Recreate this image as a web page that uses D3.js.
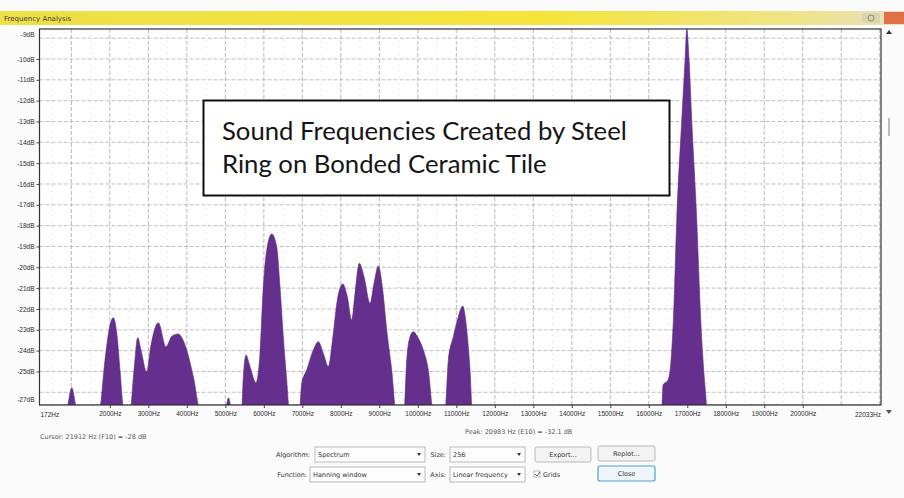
<!DOCTYPE html>
<html>
<head>
<meta charset="utf-8">
<script src="https://cdn.jsdelivr.net/npm/d3@7"></script>
<style>
  body { margin: 0; background: #ffffff; }
  svg { display: block; font-family: "DejaVu Sans", sans-serif; }
</style>
</head>
<body>
<svg id="chart" width="904" height="498"></svg>
<script>
// Spectrum (Hanning window, size 256) of a steel ring struck on a bonded ceramic tile
const freqHz = [
  172,
  860, 1009, 1159,
  1718, 1874, 1978, 2089, 2185, 2263, 2367,
  2523, 2627, 2723, 2809, 2957, 3069, 3258, 3459, 3614, 3778, 3900, 3996, 4168, 4355,
  4991, 5082, 5173,
  5420, 5467, 5537, 5641, 5797, 5901, 5986, 6075, 6205, 6335, 6420, 6506, 6594, 6667,
  6922, 6984, 7114, 7285, 7415, 7545, 7675, 7805, 7909, 8049, 8169, 8283, 8369, 8480,
  8603, 8759, 8863, 8974, 9088, 9192, 9322, 9434,
  9642, 9712, 9798, 9883, 10013, 10143, 10273, 10403,
  10707, 10793, 10923, 11053, 11167, 11271, 11357, 11416,
  16332, 16371, 16501, 16579, 16639, 16727, 16857, 16943, 16987, 17047, 17116, 17246,
  17350, 17462, 17527,
  22033
];
const levelDb = [
  -26.9,
  -26.9, -25.78, -26.9,
  -26.9, -24.45, -23.01, -22.42, -23.25, -24.93, -26.9,
  -26.9, -24.93, -23.38, -23.97, -25.01, -23.73, -22.66, -23.81, -23.30, -23.20, -23.49, -23.97, -25.25, -26.9,
  -26.9, -26.26, -26.9,
  -26.9, -25.25, -24.21, -24.77, -25.54, -24.11, -20.95, -19.17, -18.40, -19.03, -20.95, -23.35, -25.41, -26.9,
  -26.9, -25.57, -24.93, -23.97, -23.57, -24.13, -24.77, -23.17, -21.57, -20.80, -21.41, -22.53, -21.25, -19.81,
  -20.45, -21.73, -20.77, -19.94, -21.09, -23.01, -24.93, -26.9,
  -26.9, -24.45, -23.33, -23.09, -23.41, -23.97, -24.93, -26.9,
  -26.9, -24.45, -23.33, -22.37, -21.86, -23.01, -24.93, -26.9,
  -26.9, -25.65, -25.41, -24.45, -22.53, -17.73, -12.93, -10.05, -8.57, -10.05, -12.93, -17.73,
  -22.53, -25.73, -26.9,
  -26.9
];

// Axis ranges and tick labels
const freqDomain = [172, 22033];
const dbDomain = [-26.61, -8.56];
const xTickHz = [2000, 3000, 4000, 5000, 6000, 7000, 8000, 9000, 10000,
                 11000, 12000, 13000, 14000, 15000, 16000, 17000, 18000, 19000, 20000];
const xMinorHz = d3.range(500, 22033, 500);
const yTickDb = [-10, -11, -12, -13, -14, -15, -16, -17, -18, -19, -20, -21, -22, -23, -24, -25];
const yGridDb = d3.range(-9, -27, -1);
const xEndLabels = ["172Hz", "22033Hz"];
const yEndLabels = ["-9dB", "-27dB"];

// Annotation and dialog text
const noteLines = ["Sound Frequencies Created by Steel", "Ring on Bonded Ceramic Tile"];
const windowTitle = "Frequency Analysis";
const cursorText = "Cursor:  21912 Hz (F10) = -28 dB";
const peakText = "Peak:  20983 Hz (E10) = -32.1 dB";

const svg = d3.select("#chart");
const W = 904, H = 498;
const plot = { left: 39.5, right: 881, top: 29, bottom: 405 };

const x = d3.scaleLinear().domain(freqDomain).range([plot.left, plot.right]);
const y = d3.scaleLinear().domain(dbDomain).range([plot.bottom, plot.top]);

// ---- window chrome ----
const defs = svg.append("defs");
const tg = defs.append("linearGradient").attr("id", "titleGrad")
  .attr("x1", "0%").attr("x2", "100%").attr("y1", "0%").attr("y2", "0%");
tg.append("stop").attr("offset", "0%").attr("stop-color", "#efe04a");
tg.append("stop").attr("offset", "60%").attr("stop-color", "#f4e43a");
tg.append("stop").attr("offset", "88%").attr("stop-color", "#efe488");
tg.append("stop").attr("offset", "100%").attr("stop-color", "#e8e0c0");

svg.append("rect").attr("width", W).attr("height", H).attr("fill", "#fbfbfb");
svg.append("rect").attr("x", 0).attr("y", 11).attr("width", W).attr("height", 14)
  .attr("fill", "url(#titleGrad)");
svg.append("text").attr("x", 4).attr("y", 21).attr("font-size", 7)
  .attr("fill", "#3a3a30").text(windowTitle);
// caption buttons
svg.append("rect").attr("x", 862).attr("y", 13).attr("width", 18).attr("height", 10)
  .attr("rx", 2).attr("fill", "#d8d4b0");
svg.append("circle").attr("cx", 871).attr("cy", 18).attr("r", 3)
  .attr("fill", "none").attr("stroke", "#8a8a80").attr("stroke-width", 1);
svg.append("rect").attr("x", 884).attr("y", 12).attr("width", 20).attr("height", 12)
  .attr("fill", "#e07048");

// plot background
svg.append("rect").attr("x", plot.left).attr("y", plot.top)
  .attr("width", plot.right - plot.left).attr("height", plot.bottom - plot.top)
  .attr("fill", "#ffffff");

// ---- grid ----
const grid = svg.append("g");
grid.selectAll(".vminor").data(xMinorHz.filter(d => d % 1000 !== 0)).join("line")
  .attr("x1", d => x(d)).attr("x2", d => x(d))
  .attr("y1", plot.top).attr("y2", plot.bottom)
  .attr("stroke", "#cccccc").attr("stroke-width", 0.8).attr("stroke-dasharray", "1,5");
grid.selectAll(".vmajor").data(d3.range(1000, 22001, 1000)).join("line")
  .attr("x1", d => x(d)).attr("x2", d => x(d))
  .attr("y1", plot.top).attr("y2", plot.bottom)
  .attr("stroke", "#b0b0b0").attr("stroke-width", 0.9).attr("stroke-dasharray", "4,2");
grid.selectAll(".h").data(yGridDb).join("line")
  .attr("x1", plot.left).attr("x2", plot.right)
  .attr("y1", d => y(d)).attr("y2", d => y(d))
  .attr("stroke", "#b8b8b8").attr("stroke-width", 0.9).attr("stroke-dasharray", "4,2");

// ---- spectrum ----
defs.append("clipPath").attr("id", "plotClip").append("rect")
  .attr("x", plot.left).attr("y", plot.top - 2)
  .attr("width", plot.right - plot.left).attr("height", plot.bottom - plot.top + 2);

const spectrum = freqHz.map((f, i) => ({ f, db: levelDb[i] }));
const area = d3.area()
  .x(d => x(d.f))
  .y0(plot.bottom)
  .y1(d => y(d.db))
  .curve(d3.curveMonotoneX);

svg.append("path").datum(spectrum)
  .attr("clip-path", "url(#plotClip)")
  .attr("d", area)
  .attr("fill", "#652f8e")
  .attr("stroke", "#5a2a86").attr("stroke-width", 0.6);

// ---- frame ----
svg.append("rect").attr("x", plot.left).attr("y", plot.top)
  .attr("width", plot.right - plot.left).attr("height", plot.bottom - plot.top)
  .attr("fill", "none").attr("stroke", "#333").attr("stroke-width", 1.2);

// ---- axes ----
const yAxis = d3.axisLeft(y).tickValues(yTickDb).tickSize(3).tickPadding(2)
  .tickFormat(d => d + "dB");
const gy = svg.append("g").attr("transform", `translate(${plot.left},0)`).call(yAxis);
gy.select(".domain").remove();
gy.selectAll("line").attr("stroke", "#444");
gy.selectAll("text").attr("font-size", 6.5).attr("fill", "#2a2a2a");
gy.append("text").attr("x", -5).attr("y", plot.top + 6).attr("dy", "0.32em")
  .attr("text-anchor", "end").attr("font-size", 6.5).attr("fill", "#2a2a2a").text(yEndLabels[0]);
gy.append("text").attr("x", -5).attr("y", plot.bottom - 5).attr("dy", "0.32em")
  .attr("text-anchor", "end").attr("font-size", 6.5).attr("fill", "#2a2a2a").text(yEndLabels[1]);

const xAxis = d3.axisBottom(x).tickValues(xTickHz).tickSize(3).tickPadding(3)
  .tickFormat(d => d + "Hz");
const gx = svg.append("g").attr("transform", `translate(0,${plot.bottom})`).call(xAxis);
gx.select(".domain").remove();
gx.selectAll("line").attr("stroke", "#444");
gx.selectAll("text").attr("font-size", 6.5).attr("fill", "#2a2a2a");
gx.append("text").attr("x", plot.left + 1).attr("y", 12).attr("font-size", 6.5)
  .attr("fill", "#2a2a2a").attr("text-anchor", "start").text(xEndLabels[0]);
gx.append("text").attr("x", plot.right).attr("y", 12).attr("font-size", 6.5)
  .attr("fill", "#2a2a2a").attr("text-anchor", "end").text(xEndLabels[1]);

// scrollbar arrows at the right edge
svg.append("path").attr("d", "M886,34 L889,30 L892,34 Z").attr("fill", "#333");
svg.append("path").attr("d", "M886,410 L889,414 L892,410 Z").attr("fill", "#555");
svg.append("rect").attr("x", 888).attr("y", 118).attr("width", 2).attr("height", 18).attr("fill", "#bbb");

// ---- annotation box ----
svg.append("rect").attr("x", 203.5).attr("y", 100.5).attr("width", 466).attr("height", 95)
  .attr("fill", "#ffffff").attr("stroke", "#111").attr("stroke-width", 2);
svg.selectAll(".note").data(noteLines).join("text")
  .attr("x", 222).attr("y", (d, i) => 140 + i * 33)
  .attr("font-family", "Lato, 'Open Sans', sans-serif")
  .attr("font-size", 25.7).attr("fill", "#151515").text(d => d);

// ---- status line ----
svg.append("text").attr("x", 40).attr("y", 439).attr("font-size", 6.5)
  .attr("fill", "#555").text(cursorText);
svg.append("text").attr("x", 465).attr("y", 434).attr("font-size", 6.5)
  .attr("fill", "#555").text(peakText);

// ---- dialog controls ----
const ctrl = svg.append("g").attr("font-size", 6.5).attr("fill", "#333");
function label(xr, yy, t) {
  ctrl.append("text").attr("x", xr).attr("y", yy).attr("text-anchor", "end").text(t);
}
function combo(x0, y0, w, t) {
  ctrl.append("rect").attr("x", x0).attr("y", y0).attr("width", w).attr("height", 15)
    .attr("fill", "#fdfdfd").attr("stroke", "#aaa").attr("stroke-width", 0.8);
  ctrl.append("text").attr("x", x0 + 3).attr("y", y0 + 10).text(t);
  ctrl.append("path").attr("d", `M${x0 + w - 8},${y0 + 6} l4,0 l-2,3 z`).attr("fill", "#333");
}
function button(x0, y0, w, t, hot) {
  ctrl.append("rect").attr("x", x0).attr("y", y0).attr("width", w).attr("height", 15)
    .attr("rx", 2).attr("fill", hot ? "#eef6fb" : "#f3f3f3")
    .attr("stroke", hot ? "#4aa0d0" : "#aaa").attr("stroke-width", hot ? 1.2 : 0.8);
  ctrl.append("text").attr("x", x0 + w / 2).attr("y", y0 + 10).attr("text-anchor", "middle").text(t);
}
label(310, 457, "Algorithm:");
combo(315, 447, 110, "Spectrum");
label(446, 457, "Size:");
combo(450, 447, 75, "256");
button(535, 447, 56, "Export...", false);
button(598, 446, 57, "Replot...", false);
label(307, 477, "Function:");
combo(310, 467, 115, "Hanning window");
label(446, 477, "Axis:");
combo(450, 467, 75, "Linear frequency");
ctrl.append("rect").attr("x", 534).attr("y", 471).attr("width", 6).attr("height", 6)
  .attr("fill", "#fff").attr("stroke", "#999").attr("stroke-width", 0.7);
ctrl.append("path").attr("d", "M535,474 l2,2 l3,-4").attr("fill", "none").attr("stroke", "#333").attr("stroke-width", 0.8);
ctrl.append("text").attr("x", 543).attr("y", 477).text("Grids");
button(598, 466, 57, "Close", true);
</script>
</body>
</html>
